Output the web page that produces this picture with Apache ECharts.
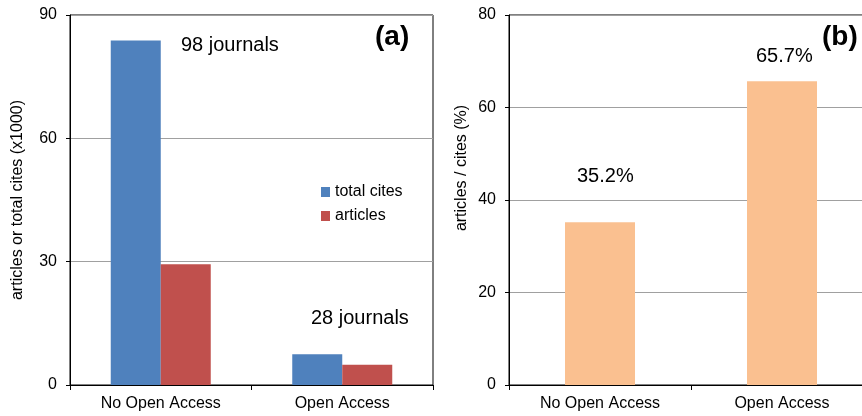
<!DOCTYPE html>
<html><head><meta charset="utf-8">
<script src="https://cdn.jsdelivr.net/npm/echarts@6/dist/echarts.min.js"></script>
<style>html,body{margin:0;padding:0;background:#fff;overflow:hidden;width:862px;height:416px}#c{width:873px;height:416px}</style>
</head><body><div id="c"></div>
<script>
var categories = ['No Open Access', 'Open Access'];
var totalCites = [83.8, 7.5];
var articles = [29.4, 4.9];
var ratioPct = [35.2, 65.7];
var ratioLabels = ['35.2%', '65.7%'];
var journalLabels = ['98 journals', '28 journals'];
var ticksA = [0, 30, 60, 90];
var ticksB = [0, 20, 40, 60, 80];

var FONT = 'Liberation Sans, Arial, sans-serif';
var chart = echarts.init(document.getElementById('c'), null, {renderer: 'canvas'});

function yAx(gi, max, interval) {
  return {
    type: 'value', gridIndex: gi, min: 0, max: max, interval: interval,
    axisLine: {show: true, lineStyle: {color: '#000', width: 1}},
    axisTick: {show: true, length: 4, lineStyle: {color: '#000'}},
    axisLabel: {color: '#000', fontSize: 16, fontFamily: FONT, margin: 13},
    splitLine: {show: true, lineStyle: {color: '#a0a0a0', width: 1}}
  };
}
function xAx(gi) {
  return {
    type: 'category', gridIndex: gi, data: categories, boundaryGap: true,
    axisLine: {show: true, lineStyle: {color: '#000', width: 1}},
    axisTick: {show: true, length: 5, lineStyle: {color: '#000'}},
    axisLabel: {color: '#000', fontSize: 16, fontFamily: FONT, margin: 11}
  };
}

var option = {
  animation: false,
  backgroundColor: '#fff',
  grid: [
    {left: 70, top: 15, width: 363, height: 370, show: true, borderColor: '#000', borderWidth: 1, backgroundColor: 'transparent'},
    {left: 509, top: 15, width: 364, height: 370, show: true, borderColor: '#000', borderWidth: 1, backgroundColor: 'transparent'}
  ],
  xAxis: [xAx(0), xAx(1)],
  yAxis: [yAx(0, ticksA[ticksA.length-1], 30), yAx(1, ticksB[ticksB.length-1], 20)],
  legend: {
    data: ['total cites', 'articles'],
    orient: 'vertical', left: 321, top: 184, padding: 0,
    itemWidth: 9, itemHeight: 10, itemGap: 8, icon: 'rect',
    textStyle: {color: '#000', fontSize: 16, fontFamily: FONT, lineHeight: 16}
  },
  series: [
    {name: 'total cites', type: 'bar', xAxisIndex: 0, yAxisIndex: 0, data: totalCites,
     barWidth: 50, barGap: '0%', itemStyle: {color: '#4F81BD'}},
    {name: 'articles', type: 'bar', xAxisIndex: 0, yAxisIndex: 0, data: articles,
     barWidth: 50, barGap: '0%', itemStyle: {color: '#C0504D'}},
    {name: 'ratio', type: 'bar', xAxisIndex: 1, yAxisIndex: 1, data: ratioPct,
     barWidth: 70, itemStyle: {color: '#FAC090'}}
  ],
  graphic: [
    {type: 'text', left: 181, top: 35, style: {text: journalLabels[0], font: '20px ' + FONT, fill: '#000'}},
    {type: 'text', left: 311, top: 308, style: {text: journalLabels[1], font: '20px ' + FONT, fill: '#000'}},
    {type: 'text', left: 375, top: 23, style: {text: '(a)', font: 'bold 28px ' + FONT, fill: '#000'}},
    {type: 'text', left: 822, top: 23, style: {text: '(b)', font: 'bold 28px ' + FONT, fill: '#000'}},
    {type: 'text', left: 577, top: 166, style: {text: ratioLabels[0], font: '20px ' + FONT, fill: '#000'}},
    {type: 'text', left: 756, top: 46, style: {text: ratioLabels[1], font: '20px ' + FONT, fill: '#000'}},
    {type: 'text', x: 18, y: 200, rotation: Math.PI/2,
     style: {text: 'articles or total cites (x1000)', font: '16px ' + FONT, fill: '#000', textAlign: 'center', textVerticalAlign: 'middle'}},
    {type: 'text', x: 462, y: 168, rotation: Math.PI/2,
     style: {text: 'articles / cites (%)', font: '16px ' + FONT, fill: '#000', textAlign: 'center', textVerticalAlign: 'middle'}}
  ]
};
chart.setOption(option);
</script></body></html>
